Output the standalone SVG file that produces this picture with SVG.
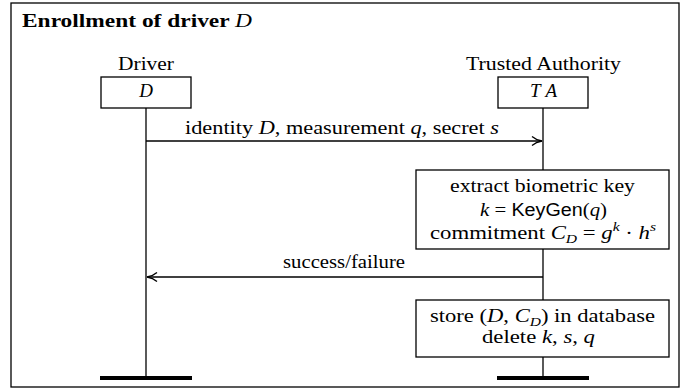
<svg xmlns="http://www.w3.org/2000/svg" width="694" height="391" viewBox="0 0 694 391">
  <style>
    text { font-family: "Liberation Serif", "DejaVu Serif", serif; font-size: 19px; fill: #000; }
    .c { text-anchor: middle; }
    .m { font-style: italic; }
    .sf { font-family: "Liberation Sans", "DejaVu Sans", sans-serif; font-style: normal; font-size: 18px; }
    .sub { font-size: 13px; }
    .box { fill: #fff; stroke: #000; stroke-width: 1.3; }
    .line { fill: none; stroke: #000; stroke-width: 1.3; }
    .bar { fill: none; stroke: #000; stroke-width: 4; }
    .frame { fill: #fff; stroke: #000; stroke-width: 1.3; }
  </style>
  <defs>
    <marker id="arrow" viewBox="0 0 12 10" refX="11" refY="5" markerWidth="12" markerHeight="10" markerUnits="userSpaceOnUse" orient="auto">
      <path d="M1,0.5 Q5,4 11,5 Q5,6 1,9.5" fill="none" stroke="#000" stroke-width="1.3"/>
    </marker>
  </defs>

  <!-- enclosing frame and title -->
  <rect class="frame" x="11" y="3" width="668" height="384"/>
  <text x="22" y="27" font-weight="bold" textLength="230" lengthAdjust="spacingAndGlyphs">Enrollment of driver <tspan class="m" font-weight="normal">D</tspan></text>

  <!-- connectors: lifelines and messages -->
  <g id="connectors">
    <line class="line" x1="146" y1="108" x2="146" y2="378"/>
    <line class="line" x1="543" y1="108" x2="543" y2="378"/>
    <line class="bar" x1="100" y1="378" x2="192" y2="378"/>
    <line class="bar" x1="497" y1="378" x2="589" y2="378"/>
    <line class="line" x1="146" y1="141" x2="542" y2="141" marker-end="url(#arrow)"/>
    <text x="185" y="134" textLength="314" lengthAdjust="spacingAndGlyphs">identity <tspan class="m">D</tspan>, measurement <tspan class="m">q</tspan>, secret <tspan class="m">s</tspan></text>
    <line class="line" x1="543" y1="277" x2="147" y2="277" marker-end="url(#arrow)"/>
    <text x="283" y="268" textLength="122" lengthAdjust="spacingAndGlyphs">success/failure</text>
  </g>

  <!-- participant: driver -->
  <g id="driver">
    <text x="118" y="69.5" textLength="56" lengthAdjust="spacingAndGlyphs">Driver</text>
    <rect class="box" x="101" y="77" width="90" height="31"/>
    <text class="c m" x="146" y="97">D</text>
  </g>

  <!-- participant: trusted authority -->
  <g id="ta">
    <text x="466" y="69.5" textLength="155" lengthAdjust="spacingAndGlyphs">Trusted Authority</text>
    <rect class="box" x="498" y="77" width="90" height="31"/>
    <text class="m" x="530" y="97" textLength="27" lengthAdjust="spacing">TA</text>
  </g>

  <!-- key extraction and commitment -->
  <g id="extract">
    <rect class="box" x="416" y="170" width="253" height="79"/>
    <text x="450" y="191.5" textLength="185" lengthAdjust="spacingAndGlyphs">extract biometric key</text>
    <text x="480" y="216" textLength="127" lengthAdjust="spacingAndGlyphs"><tspan class="m">k</tspan> = <tspan class="sf">KeyGen</tspan>(<tspan class="m">q</tspan>)</text>
    <text x="430" y="239" textLength="226" lengthAdjust="spacingAndGlyphs">commitment <tspan class="m">C</tspan><tspan class="m sub" dy="4">D</tspan><tspan dy="-4"> = </tspan><tspan class="m">g</tspan><tspan class="m sub" dy="-8">k</tspan><tspan dy="8"> · </tspan><tspan class="m">h</tspan><tspan class="m sub" dy="-8">s</tspan></text>
  </g>

  <!-- storage step -->
  <g id="store">
    <rect class="box" x="416" y="300" width="253" height="57"/>
    <text x="430" y="321.5" textLength="225" lengthAdjust="spacingAndGlyphs">store (<tspan class="m">D</tspan>, <tspan class="m">C</tspan><tspan class="m sub" dy="4">D</tspan><tspan dy="-4">) in database</tspan></text>
    <text x="482" y="343" textLength="113" lengthAdjust="spacingAndGlyphs">delete <tspan class="m">k</tspan>, <tspan class="m">s</tspan>, <tspan class="m">q</tspan></text>
  </g>
</svg>
